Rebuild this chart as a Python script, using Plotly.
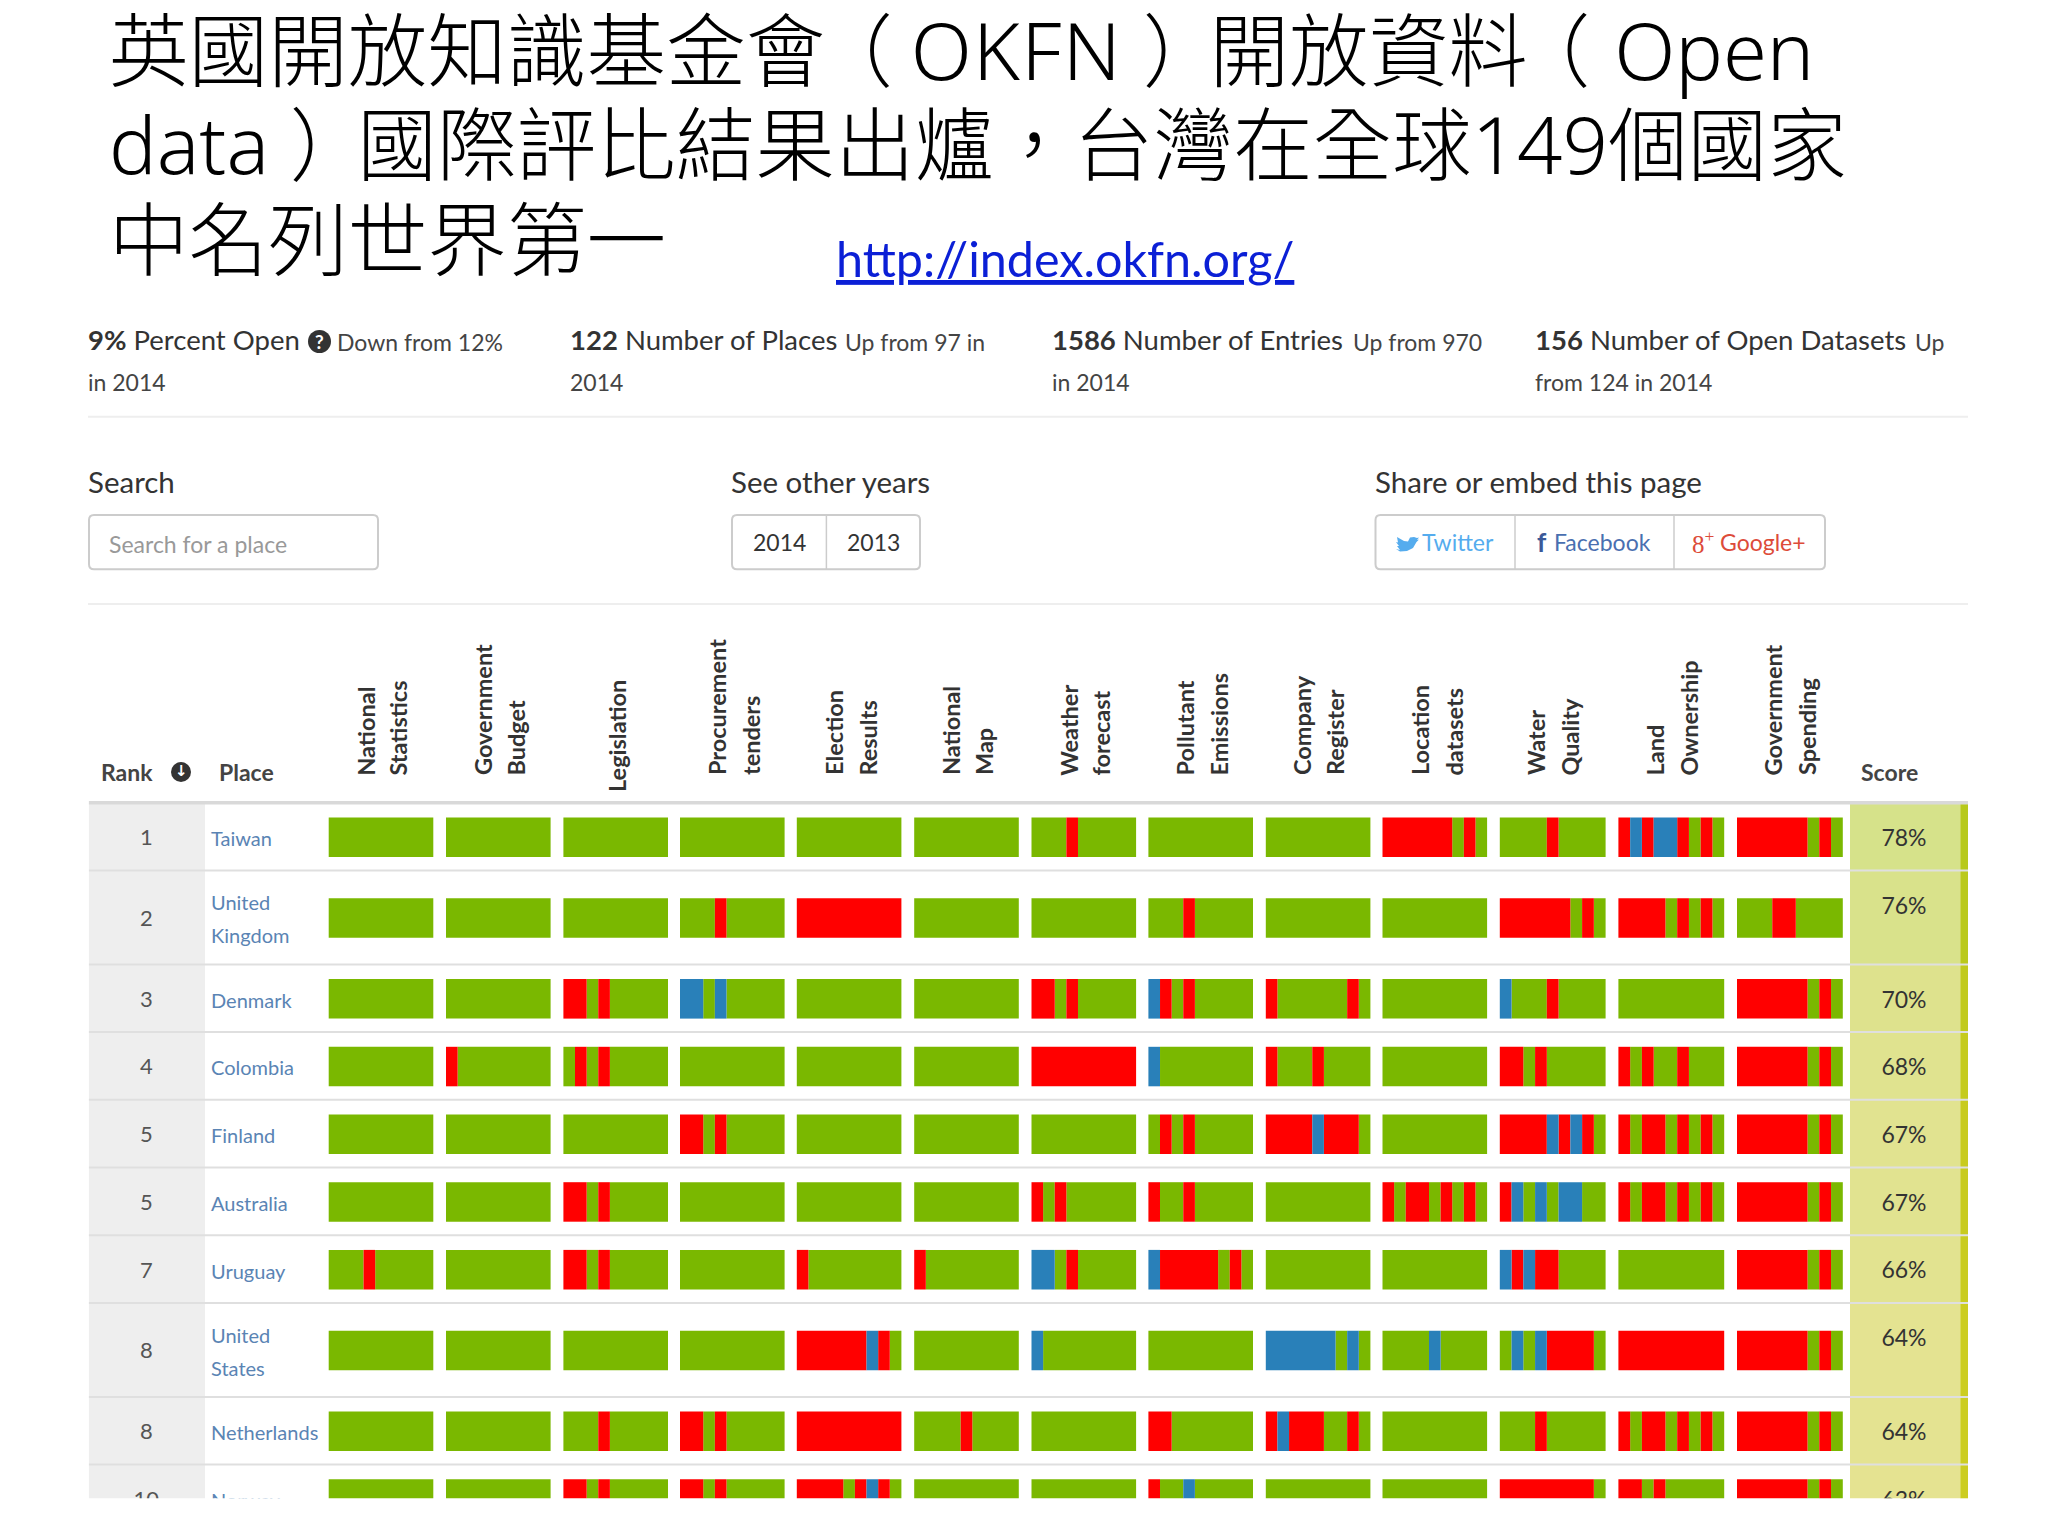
from itertools import groupby

import plotly.graph_objects as go

# Table data. One letter per question of a dataset:
# g = open, r = closed, b = unsure.
ranks = [1, 2, 3, 4, 5, 5, 7, 8, 8, 10]
places = [["Taiwan"], ["United", "Kingdom"], ["Denmark"], ["Colombia"], ["Finland"],
          ["Australia"], ["Uruguay"], ["United", "States"], ["Netherlands"], ["Norway"]]
scores = [78, 76, 70, 68, 67, 67, 66, 64, 64, 63]
columns = [["National", "Statistics"], ["Government", "Budget"], ["Legislation"],
           ["Procurement", "tenders"], ["Election", "Results"], ["National", "Map"],
           ["Weather", "forecast"], ["Pollutant", "Emissions"], ["Company", "Register"],
           ["Location", "datasets"], ["Water", "Quality"], ["Land", "Ownership"],
           ["Government", "Spending"]]

G = "ggggggggg"
R = "rrrrrrrrr"
taiwan = [G, G, G, G, G, G, "gggrggggg", G, G, "rrrrrrgrg", "ggggrgggg", "rbrbbrgrg", "rrrrrrgrg"]
united_kingdom = [G, G, G, "gggrggggg", R, G, G, "gggrggggg", G, G, "rrrrrrgrg", "rrrrgrgrg", "gggrrgggg"]
denmark = [G, G, "rrgrggggg", "bbgbggggg", G, G, "rrgrggggg", "brgrggggg", "rggggggrg", G, "bgggrgggg", G, "rrrrrrgrg"]
colombia = [G, "rgggggggg", "grgrggggg", G, G, G, R, "bgggggggg", "rgggrgggg", G, "rrgrggggg", "rgrggrggg", "rrrrrrgrg"]
finland = [G, G, G, "rrgrggggg", G, G, G, "grgrggggg", "rrrrbrrrg", G, "rrrrbrbrg", "rgrrgrgrg", "rrrrrrgrg"]
australia = [G, G, "rrgrggggg", G, G, G, "rgrgggggg", "rggrggggg", G, "rgrrgrgrg", "rbgbgbbgg", "rgrrgrgrg", "rrrrrrgrg"]
uruguay = ["gggrggggg", G, "rrgrggggg", G, "rgggggggg", "rgggggggg", "bbgrggggg", "brrrrrgrg", G, G, "brbrrgggg", G, "rrrrrrgrg"]
united_states = [G, G, G, G, "rrrrrrbrg", G, "bgggggggg", G, "bbbbbbgbg", "ggggbgggg", "gbgbrrrrg", R, "rrrrrrgrg"]
netherlands = [G, G, "gggrggggg", "rrgrggggg", R, "ggggrgggg", G, "rrggggggg", "rbrrrggrg", G, "gggrggggg", "rgrrgrgrg", "rrrrrrgrg"]
norway = [G, G, "rrgrggggg", "rrgrggggg", "rrrrgrbrg", G, G, "rggbggggg", G, G, "rrrrrrrrg", "rrgrggggg", "rrrrrrgrg"]
answers = [taiwan, united_kingdom, denmark, colombia, finland, australia, uruguay,
           united_states, netherlands, norway]

stats = [
    ("9%", "Percent Open", "Down from 12%", "in 2014"),
    ("122", "Number of Places", "Up from 97 in", "2014"),
    ("1586", "Number of Entries", "Up from 970", "in 2014"),
    ("156", "Number of Open Datasets", "Up", "from 124 in 2014"),
]


def tight(text, px_shift):
    # letter-spacing nudge: the slide font centres its brackets, Noto does not
    return f"<span style='letter-spacing:{px_shift}px'>{text}</span>"


title_lines = [
    "英國開放知識基金" + tight("會", -12) + tight("（ ", -1.5) + tight("OKFN", 1.3) + " " + tight("）", -13)
    + "開放資" + tight("料", -17) + tight("（ ", 1.5) + "Open",
    "data " + tight("）", -12) + "國際評比結果出爐，台灣在全球149個國家",
    "中名列世界第一",
]

# Page layout, all in pixels of the 2048x1536 slide.
W, H = 2048, 1536
LATO = "Lato, 'Noto Sans CJK TC', sans-serif"
TABLE_TOP, TABLE_BOTTOM = 802.7, 1498.3
col_left = [328.7, 446, 563.4, 680, 796.8, 914.2, 1031.5, 1148.4, 1265.8, 1382.5, 1499.8, 1618.4, 1737]
col_width = [104.6] * 10 + [105.8] * 3
col_labels_x = [(365.7, 397.6), (483, 515.6), (617,), (716.5, 751), (834, 867.6), (951, 984),
                (1068.7, 1100.6), (1185.4, 1218.6), (1301.5, 1334.6), (1419.5, 1453),
                (1536, 1569), (1655.4, 1688.6), (1773.4, 1807)]
score_bg = ["#d6e28a", "#d9e28b", "#dee28d", "#e0e38f", "#e1e390", "#e1e390", "#e2e390", "#e4e391", "#e4e391", "#e5e391"]
score_strip = ["#b7c91b", "#bac91b", "#c1ca1c", "#c5cb1d", "#c8cb1e", "#c8cb1e", "#c9cc1f", "#cccd20", "#cccd20", "#cccd20"]
colors = {"g": "#7ab800", "r": "#ff0000", "b": "#2980b9"}
BAR_HEIGHT = 39.5


def px(x):
    return x / W


def py(y):
    return 1 - y / H


def rect(x0, y0, x1, y1, fill):
    return dict(type="rect", xref="paper", yref="paper", x0=px(x0), x1=px(x1), y0=py(y0), y1=py(y1),
                fillcolor=fill, line=dict(width=0), layer="below")


def hline(y, x0, x1, color, lw):
    return dict(type="line", xref="paper", yref="paper", x0=px(x0), x1=px(x1), y0=py(y), y1=py(y),
                line=dict(color=color, width=lw), layer="below")


def vline(x, y0, y1, color, lw=1.5):
    return dict(type="line", xref="paper", yref="paper", x0=px(x), x1=px(x), y0=py(y0), y1=py(y1),
                line=dict(color=color, width=lw), layer="below")


def rounded_box(x0, y0, x1, y1, r=5):
    p = (f"M{px(x0 + r)},{py(y0)} L{px(x1 - r)},{py(y0)} Q{px(x1)},{py(y0)} {px(x1)},{py(y0 + r)} "
         f"L{px(x1)},{py(y1 - r)} Q{px(x1)},{py(y1)} {px(x1 - r)},{py(y1)} "
         f"L{px(x0 + r)},{py(y1)} Q{px(x0)},{py(y1)} {px(x0)},{py(y1 - r)} "
         f"L{px(x0)},{py(y0 + r)} Q{px(x0)},{py(y0)} {px(x0 + r)},{py(y0)} Z")
    return dict(type="path", xref="paper", yref="paper", layer="below", path=p,
                fillcolor="#ffffff", line=dict(color="#cccccc", width=2))


def note(x, y, text, size, color="#333333", xanchor="left", family=LATO, weight=None, **kw):
    font = dict(size=size, color=color, family=family)
    if weight:
        font["weight"] = weight
    return dict(x=px(x), y=py(y), xref="paper", yref="paper", text=text, showarrow=False,
                xanchor=xanchor, yanchor=kw.pop("yanchor", "middle"), font=font, **kw)


# Row geometry comes from how many lines the place name needs.
row_tops = []
row_mids = []
top = TABLE_TOP
for lines in places:
    h = 94 if len(lines) == 2 else 67.7
    row_tops.append(top)
    row_mids.append(top + h / 2)
    top += h
row_bottoms = row_tops[1:] + [top]

fig = go.Figure()

# The question stripes, one bar trace per colour, neighbours of one colour merged.
for key, name in [("g", "Open"), ("r", "Closed"), ("b", "Unsure")]:
    xs, ys, bases = [], [], []
    for r, row in enumerate(answers):
        for c, cell in enumerate(row):
            seg = col_width[c] / len(cell)
            i = 0
            for a, run in groupby(cell):
                n = len(list(run))
                if a == key:
                    xs.append(seg * n)
                    ys.append(row_mids[r] + 0.6)
                    bases.append(col_left[c] + i * seg)
                i += n
    fig.add_trace(go.Bar(x=xs, y=ys, base=bases, orientation="h", width=BAR_HEIGHT, name=name,
                         marker=dict(color=colors[key], line=dict(width=0)), showlegend=False))

# Rank, place and score as text traces so the last row is cut at the table edge.
fig.add_trace(go.Scatter(x=[146.3] * len(ranks), y=[m + 3 for m in row_mids], text=[str(v) for v in ranks],
                         mode="text", textposition="middle center", cliponaxis=True,
                         textfont=dict(size=22, color="#555555", family=LATO)))
place_x, place_y, place_text = [], [], []
for r, lines in enumerate(places):
    for i, line in enumerate(lines):
        place_x.append(211)
        place_y.append(row_mids[r] + 4.5 + (i - (len(lines) - 1) / 2) * 33)
        place_text.append(line)
fig.add_trace(go.Scatter(x=place_x, y=place_y, text=place_text, mode="text",
                         textposition="middle right", cliponaxis=True,
                         textfont=dict(size=20, color="#5a84b4", family=LATO)))
fig.add_trace(go.Scatter(x=[1904] * len(scores), y=[t + 37.5 for t in row_tops],
                         text=[f"{v}%" for v in scores], mode="text",
                         textposition="middle center", cliponaxis=True,
                         textfont=dict(size=23, color="#333333", family=LATO)))
# Page number sticking out under the screenshot, only its lower edge shows.
fig.add_trace(go.Scatter(x=[2011], y=[1486], text=["37"], mode="text", textposition="middle center",
                         cliponaxis=True, yaxis="y2",
                         textfont=dict(size=36, color="#8a8a8a", family=LATO)))

shapes = []
annotations = []

# Table backgrounds and rules.
for r in range(len(ranks)):
    b = min(row_bottoms[r], TABLE_BOTTOM)
    shapes.append(rect(88.9, row_tops[r], 205, b, "#eeeeee"))
    shapes.append(rect(1850, row_tops[r], 1960.3, b, score_bg[r]))
    shapes.append(rect(1960.3, row_tops[r], 1968, b, score_strip[r]))
    if r > 0:
        shapes.append(hline(row_tops[r], 88.9, 1968, "#dfdfdf", 2))
shapes.append(hline(TABLE_TOP, 88.9, 1968, "#d9d9d9", 3.5))
shapes.append(hline(416.7, 88, 1968, "#eeeeee", 2))
shapes.append(hline(604, 88, 1968, "#eeeeee", 2))

# Slide title and link.
for y, line in zip([49, 143, 238], title_lines):
    annotations.append(note(107, y, line, 79.6, color="#000000", weight=300,
                            family="'Noto Sans', 'Noto Sans CJK TC', sans-serif"))
annotations.append(note(833.5, 258, "<u>http://index.okfn.org/</u>", 48.5, color="#0b1fd6",
                        family="Lato, sans-serif"))

# Summary statistics.
stat_x = [85.5, 568, 1050.3, 1532.5]
stat_sub_x = [334.5, 843, 1351.3, 1912.5]
for (num, label, sub, second), x, sx in zip(stats, stat_x, stat_sub_x):
    annotations.append(note(x, 339.5, f"<b>{num}</b> {label}", 27.5))
    annotations.append(note(sx, 342, sub, 23, color="#444444"))
    annotations.append(note(x, 382, second, 23, color="#444444"))
shapes.append(dict(type="circle", xref="paper", yref="paper", x0=px(308), x1=px(331), y0=py(330), y1=py(353),
                   fillcolor="#333333", line=dict(width=0), layer="below"))
annotations.append(note(319.5, 341.5, "<b>?</b>", 19, color="#ffffff", xanchor="center"))

# Search, year and share controls.
annotations.append(note(85.5, 482, "Search", 29.5))
annotations.append(note(728.5, 482, "See other years", 29.5))
annotations.append(note(1372.5, 482, "Share or embed this page", 29.5))
for x0, x1 in [(89, 378), (732, 920), (1375.5, 1825)]:
    shapes.append(rounded_box(x0, 515, x1, 569.3))
for x in [826.4, 1515, 1674]:
    shapes.append(vline(x, 515, 569.3, "#cccccc"))
annotations.append(note(107, 544, "Search for a place", 23, color="#999999"))
annotations.append(note(779, 542, "2014", 23, xanchor="center"))
annotations.append(note(873.6, 542, "2013", 23, xanchor="center"))
bird = [(1396, 549), (1400, 550), (1397, 546), (1399, 546), (1396, 542), (1398, 542.5), (1397, 537),
        (1404, 541), (1408, 541.5), (1410, 537.5), (1414, 537), (1417, 538), (1419, 537.5), (1417, 540),
        (1419, 539.5), (1416.5, 542), (1413, 548), (1407, 551), (1400, 551.5)]
shapes.append(dict(type="path", xref="paper", yref="paper", layer="below", fillcolor="#55acee", line=dict(width=0),
                   path="M" + " L".join(f"{px(a)},{py(b)}" for a, b in bird) + " Z"))
annotations.append(note(1420, 542, "Twitter", 23, color="#55acee"))
annotations.append(note(1535, 542, "<b>f</b>", 26, color="#3b5998"))
annotations.append(note(1552, 542, "Facebook", 23, color="#4a6fb0"))
annotations.append(note(1690, 542, "8<sup>+</sup>", 25, color="#dd4b39", family="'Liberation Serif', serif"))
annotations.append(note(1717.5, 542, "Google+", 23, color="#dd4b39"))

# Table header.
annotations.append(note(99, 771.5, "<b>Rank</b>", 23, color="#444444"))
shapes.append(dict(type="circle", xref="paper", yref="paper", x0=px(171), x1=px(191), y0=py(762), y1=py(782),
                   fillcolor="#333333", line=dict(width=0), layer="below"))
annotations.append(note(181, 771, "<b>↓</b>", 15, color="#ffffff", xanchor="center", family="'DejaVu Sans', sans-serif"))
annotations.append(note(216.5, 771.5, "<b>Place</b>", 23, color="#444444"))
annotations.append(note(1859, 771.5, "<b>Score</b>", 23, color="#444444"))
for label, xs in zip(columns, col_labels_x):
    for word, x in zip(label, xs):
        bottom = 794 if len(label) == 1 else 777.5
        annotations.append(note(x, bottom, f"<b>{word}</b>", 23.5, color="#333333", xanchor="center",
                                textangle=-90, yanchor="bottom"))

fig.update_layout(
    width=W, height=H,
    margin=dict(l=0, r=0, t=0, b=0),
    paper_bgcolor="#ffffff", plot_bgcolor="rgba(0,0,0,0)",
    barmode="overlay", showlegend=False,
    shapes=shapes, annotations=annotations,
    xaxis=dict(range=[0, W], domain=[0, 1], visible=False),
    yaxis=dict(range=[TABLE_BOTTOM, TABLE_TOP + 1.5], domain=[py(TABLE_BOTTOM), py(TABLE_TOP + 1.5)], visible=False),
    yaxis2=dict(range=[1536, 1497], domain=[0, py(1497)], visible=False, anchor="x"),
)

fig.write_html("out.html", config=dict(displayModeBar=False),
               post_script="document.body.style.margin='0';")
